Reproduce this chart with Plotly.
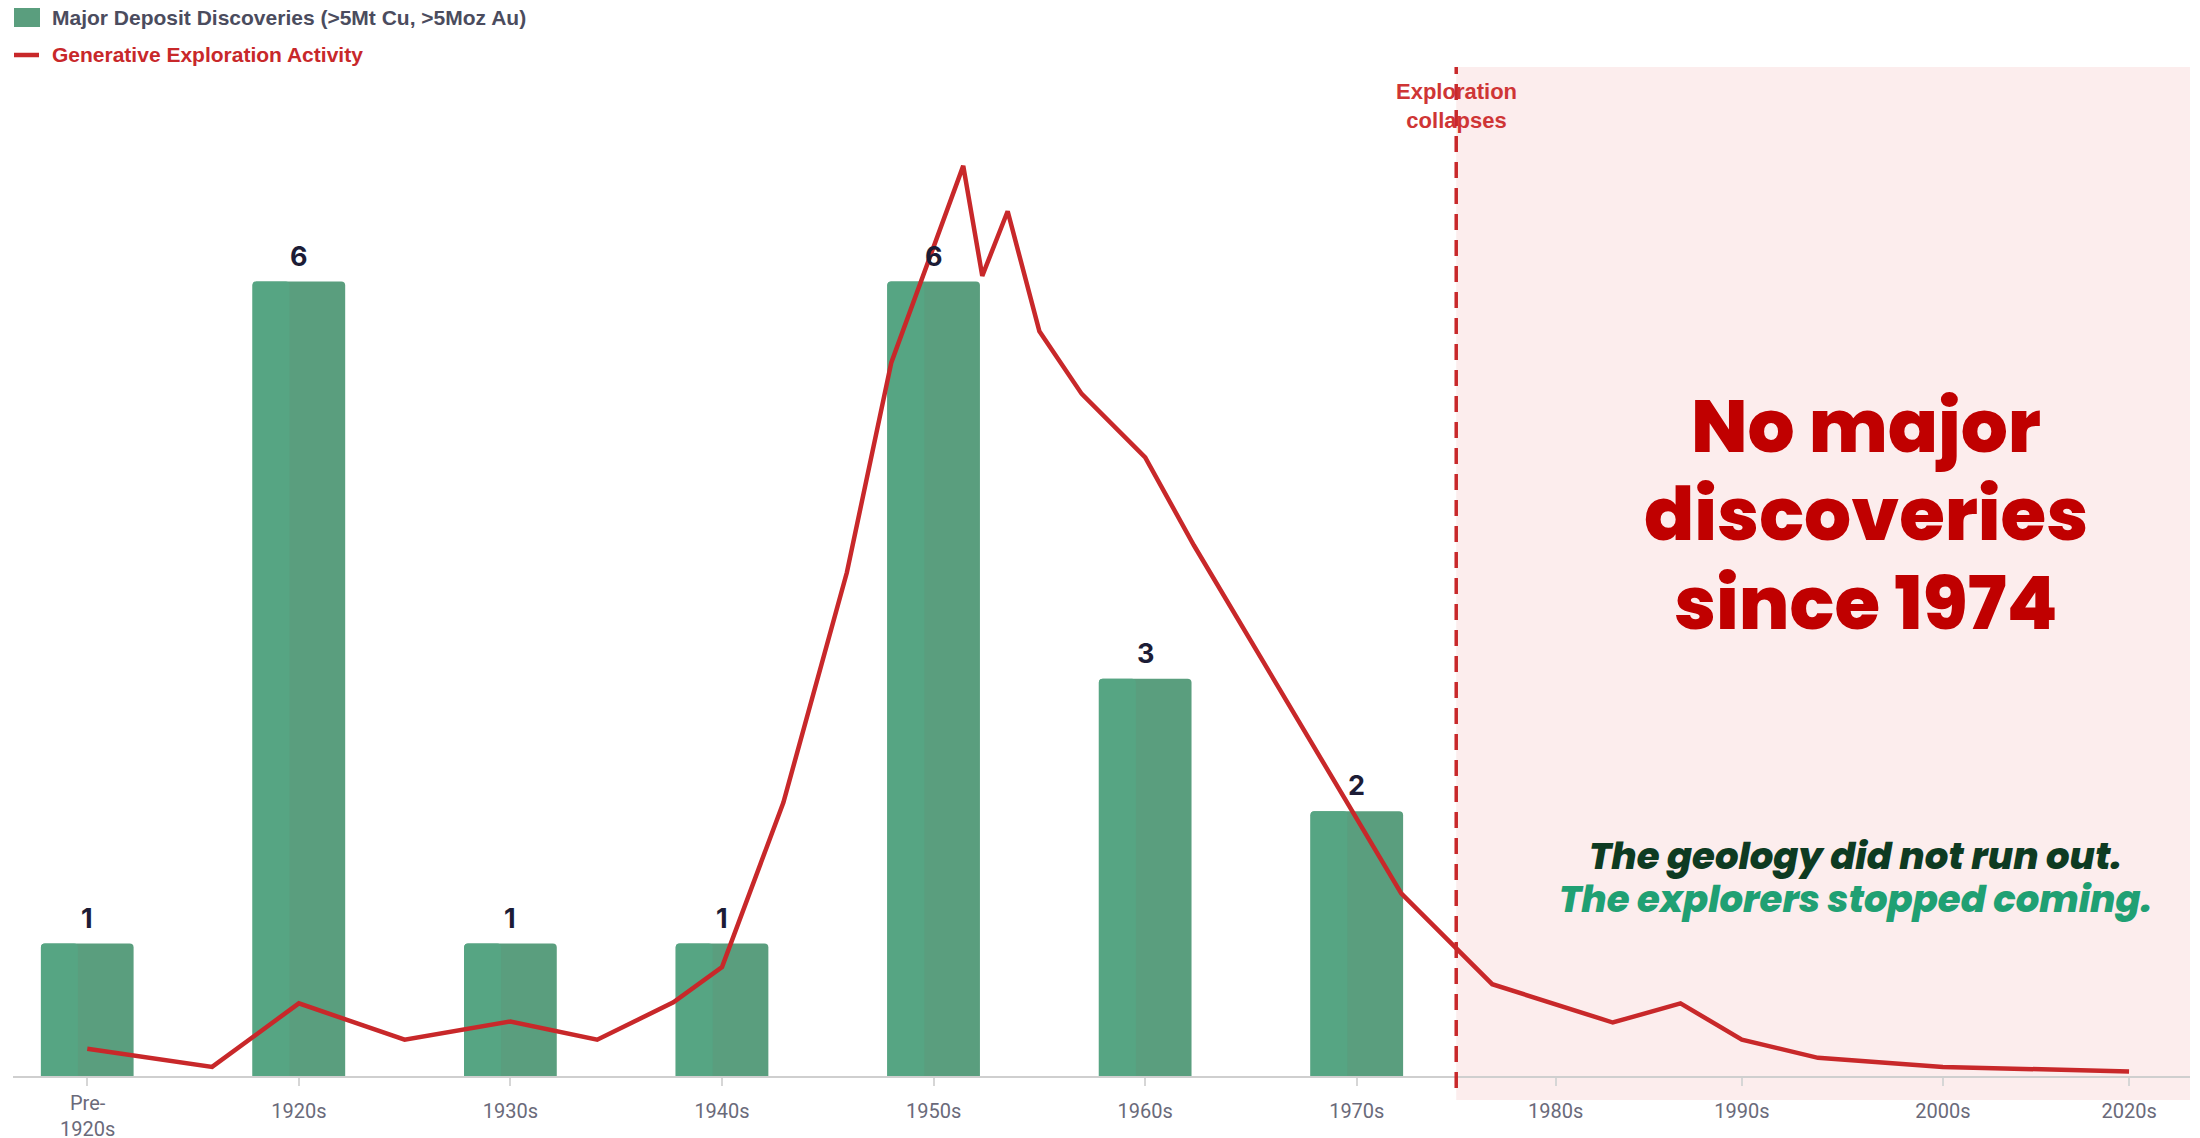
import plotly.graph_objects as go

# ---------------- data ----------------
tick_labels = ["Pre-<br>1920s", "1920s", "1930s", "1940s", "1950s", "1960s",
               "1970s", "1980s", "1990s", "2000s", "2020s"]
tick_years = [1910, 1920, 1930, 1940, 1950, 1960, 1970, 1979.4, 1988.2, 1997.7, 2006.5]

bar_years = [1910, 1920, 1930, 1940, 1950, 1960, 1970]
discoveries = [1, 6, 1, 1, 6, 3, 2]

activity_year = [1910, 1915.9, 1920, 1925, 1930, 1934.1, 1937.7, 1940, 1942.9, 1945.9,
                 1948, 1951.4, 1952.3, 1953.5, 1955, 1957, 1960, 1962.3, 1972.1, 1976.4,
                 1982.1, 1985.3, 1988.2, 1991.8, 1997.7, 2006.5]
activity_index = [2.7, 0.9, 7.2, 3.6, 5.4, 3.6, 7.3, 10.8, 27.1, 49.9,
                  70.7, 90.2, 79.3, 85.7, 73.8, 67.6, 61.3, 52.6, 18.1, 9.1,
                  5.3, 7.2, 3.6, 1.8, 0.9, 0.45]

collapse_year = 1974.7

# ---------------- layout geometry ----------------
# the page body adds an 8px offset, so the figure is sized/margined to compensate
OFF = 8
FIG_W, FIG_H = 2192, 1130
M_L, M_R, M_T, M_B = 5, 10, 59, 62
PLOT_LEFT = OFF + M_L          # page px
PLOT_TOP = OFF + M_T
PW = FIG_W - M_L - M_R
PH = FIG_H - M_T - M_B
PLOT_BOTTOM = PLOT_TOP + PH
X_RANGE = [1906.49, 2009.38]
Y_RANGE = [0, 7.62]


def px_x(px):
    return (px - PLOT_LEFT) / PW


def px_y(py):
    return (PLOT_BOTTOM - py) / PH


def data_to_paper_x(v):
    return (v - X_RANGE[0]) / (X_RANGE[1] - X_RANGE[0])


RED = "#C8282A"
DARK_GREEN_BAR = "#5A9E7E"
LIGHT_GREEN_BAR = "#56A583"
TICK_FONT = dict(family="Roboto, sans-serif", size=20, color="#6A6A7A")

fig = go.Figure()

fig.add_trace(go.Bar(
    x=bar_years, y=discoveries, width=4.38,
    marker=dict(color=DARK_GREEN_BAR, cornerradius=4, line=dict(width=0)),
    name="Major Deposit Discoveries (>5Mt Cu, >5Moz Au)", hoverinfo="skip",
))
fig.add_trace(go.Bar(
    x=bar_years, y=discoveries, width=1.75, offset=-2.19,
    marker=dict(color=LIGHT_GREEN_BAR, cornerradius=4, line=dict(width=0)),
    showlegend=False, hoverinfo="skip",
))
fig.add_trace(go.Scatter(
    x=activity_year, y=activity_index, yaxis="y2", mode="lines",
    line=dict(color=RED, width=4.5), name="Generative Exploration Activity",
    hoverinfo="skip",
))

cx = data_to_paper_x(collapse_year)

shapes = [
    dict(type="rect", xref="paper", yref="paper", x0=cx, x1=1,
         y0=px_y(1100), y1=1,
         fillcolor="#FCEDED", line=dict(width=0), layer="below"),
    dict(type="line", xref="paper", yref="paper", x0=cx, x1=cx,
         y0=px_y(1088), y1=1,
         line=dict(color=RED, width=3.5, dash="16px,10px"), layer="above"),
    # legend swatches
    dict(type="rect", xref="paper", yref="paper", x0=px_x(14), x1=px_x(40),
         y0=px_y(27), y1=px_y(5), fillcolor=DARK_GREEN_BAR, line=dict(width=0)),
    dict(type="line", xref="paper", yref="paper", x0=px_x(14), x1=px_x(39),
         y0=px_y(55), y1=px_y(55), line=dict(color=RED, width=4.5)),
]

annotations = []
# bar value labels
for xv, v in zip(bar_years, discoveries):
    annotations.append(dict(
        x=xv, y=v, xref="x", yref="y", text=str(v), showarrow=False,
        yanchor="bottom", yshift=7,
        font=dict(family="Inter, Open Sans, sans-serif", size=27, color="#1C1C36", weight="bold"),
    ))

# two-line first tick label (placed higher than single-line ones, as in the source)
annotations.append(dict(
    x=tick_years[0], y=px_y(1116), xref="x", yref="paper", xanchor="center", yanchor="middle",
    text=tick_labels[0], showarrow=False, font=TICK_FONT,
))
axis_ticktext = [""] + tick_labels[1:]

# legend texts
annotations.append(dict(
    x=px_x(50), y=px_y(18), xref="paper", yref="paper", xanchor="left", yanchor="middle",
    text="Major Deposit Discoveries (>5Mt Cu, >5Moz Au)", showarrow=False,
    font=dict(family="Liberation Sans, Arial, sans-serif", size=21, color="#4B4C5E", weight="bold"),
))
annotations.append(dict(
    x=px_x(50), y=px_y(55), xref="paper", yref="paper", xanchor="left", yanchor="middle",
    text="Generative Exploration Activity", showarrow=False,
    font=dict(family="Liberation Sans, Arial, sans-serif", size=21, color=RED, weight="bold"),
))

# collapse label
annotations.append(dict(
    x=cx, y=px_y(106), xref="paper", yref="paper", xanchor="center", yanchor="middle",
    text="Exploration<br>collapses", showarrow=False,
    font=dict(family="Liberation Sans, Arial, sans-serif", size=22, color="#CF3535", weight="bold"),
))

# big message
for txt, py in [("No major", 426), ("discoveries", 514), ("since 1974", 603)]:
    annotations.append(dict(
        x=px_x(1866), y=px_y(py), xref="paper", yref="paper", xanchor="center", yanchor="middle",
        text=txt, showarrow=False,
        font=dict(family="Poppins, Inter, Open Sans, sans-serif", size=74, color="#C00000", weight=800),
    ))

annotations.append(dict(
    x=px_x(1855), y=px_y(856), xref="paper", yref="paper", xanchor="center", yanchor="middle",
    text="<i>The geology did not run out.</i>", showarrow=False,
    font=dict(family="Poppins, Inter, Open Sans, sans-serif", size=37, color="#0E3B22", weight=800),
))
annotations.append(dict(
    x=px_x(1855), y=px_y(899), xref="paper", yref="paper", xanchor="center", yanchor="middle",
    text="<i>The explorers stopped coming.</i>", showarrow=False,
    font=dict(family="Poppins, Inter, Open Sans, sans-serif", size=37, color="#20A073", weight=800),
))

fig.update_layout(
    width=FIG_W, height=FIG_H,
    margin=dict(l=M_L, r=M_R, t=M_T, b=M_B, pad=0),
    paper_bgcolor="white", plot_bgcolor="white",
    barmode="overlay", showlegend=False,
    shapes=shapes, annotations=annotations,
    xaxis=dict(
        range=X_RANGE, tickmode="array", tickvals=tick_years, ticktext=axis_ticktext,
        ticks="outside", ticklen=8, tickwidth=1.5, tickcolor="#D6D6D6",
        showline=True, linecolor="#CFCFCF", linewidth=2, automargin=False,
        showgrid=False, zeroline=False, ticklabelstandoff=8,
        tickfont=TICK_FONT,
    ),
    yaxis=dict(range=Y_RANGE, visible=False, showgrid=False, zeroline=False, automargin=False),
    yaxis2=dict(range=[0, 100], overlaying="y", visible=False, showgrid=False,
                zeroline=False, automargin=False),
)

fig.write_html("out.html")
